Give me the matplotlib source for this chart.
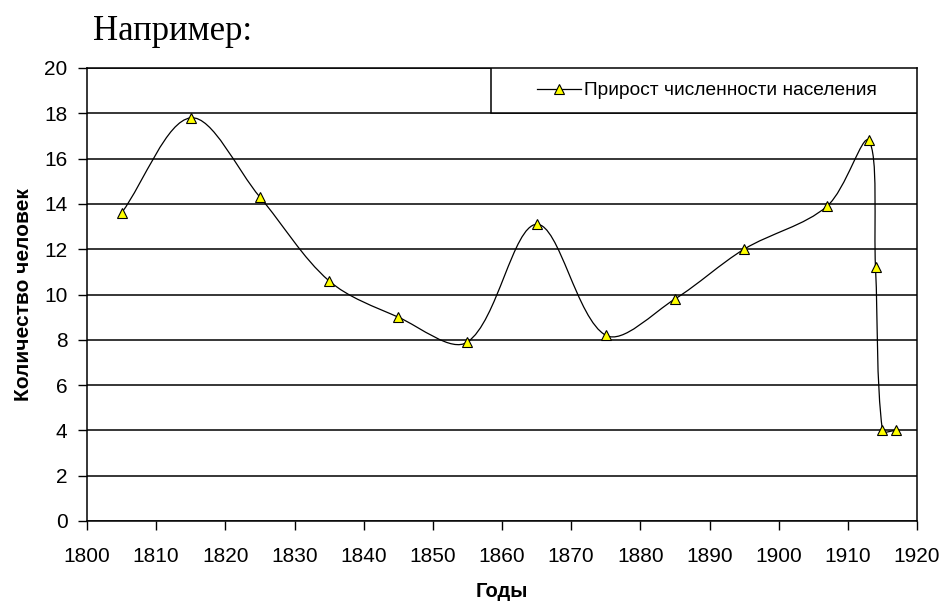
import numpy as np
import matplotlib
matplotlib.use('Agg')
import matplotlib.pyplot as plt
from matplotlib.path import Path
from matplotlib.patches import PathPatch, Rectangle

plt.rcParams['font.family'] = ['Liberation Sans', 'DejaVu Sans']

# данные
years = [1805, 1815, 1825, 1835, 1845, 1855, 1865, 1875, 1885, 1895, 1907, 1913, 1914, 1915, 1917]
growth = [13.6, 17.8, 14.3, 10.6, 9.0, 7.9, 13.1, 8.2, 9.8, 12.0, 13.9, 16.8, 11.2, 4.0, 4.0]
x_ticks = list(range(1800, 1921, 10))
y_ticks = list(range(0, 21, 2))

series_label = 'Прирост численности населения'
x_label = 'Годы'
y_label = 'Количество человек'
title_text = 'Например:'

fig = plt.figure(figsize=(9.42, 6.02), dpi=100)
ax = fig.add_axes([87 / 942, 1 - 521 / 602, 830 / 942, 453 / 602])
ax.set_xlim(1800, 1920)
ax.set_ylim(0, 20)
ax.set_xticks(x_ticks)
ax.set_yticks(y_ticks)
ax.tick_params(direction='out', length=6.5, width=1, labelsize=15, color='black')
ax.tick_params(axis='x', pad=12)
ax.tick_params(axis='y', pad=7.5)
ax.yaxis.grid(True, color='black', linewidth=1.1)
ax.set_axisbelow(True)
for s in ax.spines.values():
    s.set_color('black')
    s.set_linewidth(1.1)


def excel_smooth(ax, xs, ys):
    """Сглаженная линия как в Excel (Безье, касательные масштабируются по длине сегментов)"""
    pts = ax.transData.transform(np.column_stack([xs, ys]))
    n = len(pts)
    verts = [pts[0]]
    codes = [Path.MOVETO]
    for i in range(n - 1):
        p0 = pts[i - 1] if i > 0 else pts[i]
        p1 = pts[i]
        p2 = pts[i + 1]
        p3 = pts[i + 2] if i + 2 < n else pts[i + 1]
        d01 = np.hypot(*(p1 - p0))
        d12 = np.hypot(*(p2 - p1))
        d23 = np.hypot(*(p3 - p2))
        f1 = d12 / (d01 + d12) / 1.5 if d01 + d12 > 0 else 0
        f2 = d12 / (d12 + d23) / 1.5 if d12 + d23 > 0 else 0
        c1 = p1 + (p2 - p0) * f1 / 2
        c2 = p2 - (p3 - p1) * f2 / 2
        verts += [c1, c2, p2]
        codes += [Path.CURVE4] * 3
    verts = ax.transData.inverted().transform(np.array(verts))
    return Path(verts, codes)


ax.add_patch(PathPatch(excel_smooth(ax, years, growth), fill=False,
                       edgecolor='black', linewidth=0.9, zorder=3))
ax.plot(years, growth, linestyle='none', marker='^', markersize=7,
        markerfacecolor='#ffff00', markeredgecolor='black', markeredgewidth=0.8,
        zorder=4, label=series_label)

# рамка легенды поверх сетки
lx0 = (491 - 87) / 830
ly0 = 18 / 20
ax.add_patch(Rectangle((lx0, ly0), 1 - lx0, 1 - ly0, transform=ax.transAxes,
                       facecolor='white', edgecolor='black', linewidth=1.1, zorder=5))
leg = ax.legend(loc='center', bbox_to_anchor=(lx0 + 0.004, ly0, 1 - lx0, 1 - ly0),
                frameon=False, fontsize=13.8, handlelength=2.3, handletextpad=0.15,
                borderaxespad=0)
leg.set_zorder(6)
leg.get_lines()[0].set_linestyle('-')
leg.get_lines()[0].set_color('black')
leg.get_lines()[0].set_linewidth(0.9)

ax.set_xlabel(x_label, fontsize=14.5, fontweight='bold')
ax.set_ylabel(y_label, fontsize=15, fontweight='bold')
ax.xaxis.set_label_coords(0.5, -0.155)
ax.xaxis.label.set_va('center')
ax.yaxis.set_label_coords(-0.077, 0.5)
ax.yaxis.label.set_va('center')

fig.text(93 / 942, 1 - 40 / 602, title_text, fontsize=25, family='Liberation Serif',
         ha='left', va='baseline')

fig.savefig('out.png', dpi=100, facecolor='white')
